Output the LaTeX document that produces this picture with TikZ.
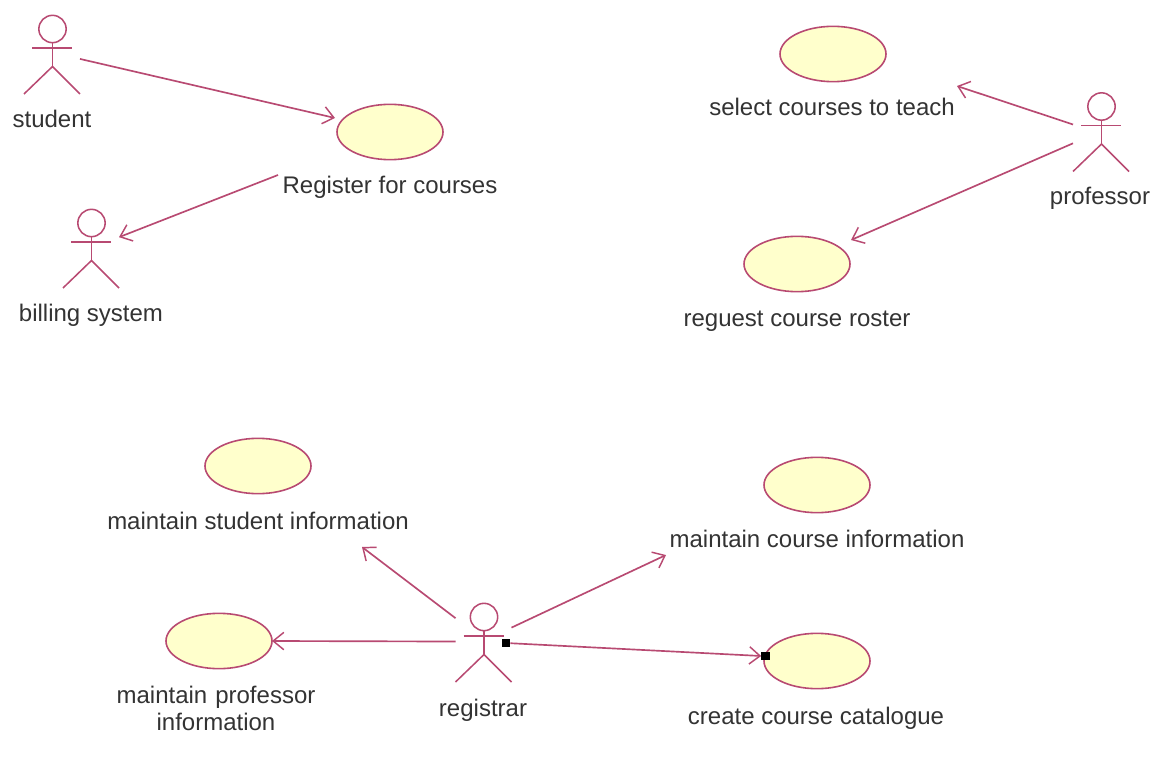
\documentclass[tikz,border=0pt]{standalone}
\usepackage{fontspec}
\setmainfont{Liberation Sans}
\usetikzlibrary{arrows.meta,shapes.geometric}
\definecolor{umlline}{HTML}{B84A72}
\definecolor{umlfill}{HTML}{FFFFCC}
\definecolor{umltext}{HTML}{333333}
\tikzset{
  usecase/.style={ellipse,draw=umlline,fill=umlfill,line width=1.2pt,minimum width=79.5pt,minimum height=41.5pt,inner sep=0pt,outer sep=0pt},
  actorbox/.style={rectangle,minimum width=42pt,minimum height=59pt,inner sep=0pt,outer sep=0pt},
  assoc/.style={draw=umlline,line width=1.25pt,-{Straight Barb[length=8pt,width=13pt,line width=1.1pt]}},
  stick/.style={draw=umlline,line width=1.15pt},
  lbl/.style={text=umltext,font=\fontsize{18pt}{20pt}\selectfont,inner sep=0pt,align=center},
  handle/.style={rectangle,fill=black,minimum size=6.5pt,inner sep=0pt,outer sep=0pt}
}
\newcommand{\stickfigure}[3]{%
  \node[actorbox] (#1) at (#2,#3) {};
  \node[circle,draw=umlline,fill=white,line width=1.15pt,minimum size=20.5pt,inner sep=0pt,outer sep=0pt] (#1-head) at (#2+0.5,#3-25.5) {};
  \coordinate (#1-neck) at (#1-head.south);
  \coordinate (#1-hip) at (#2+0.5,#3+12);
  \coordinate (#1-la) at (#2-20,#3-6.5);
  \coordinate (#1-ra) at (#2+20,#3-6.5);
  \coordinate (#1-ll) at (#2-28,#3+39.5);
  \coordinate (#1-rl) at (#2+28,#3+39.5);
  \draw[stick] (#1-neck) -- (#1-hip);
  \draw[stick] (#1-la) -- (#1-ra);
  \draw[stick] (#1-ll) -- (#1-hip) -- (#1-rl);
}
\begin{document}
\begin{tikzpicture}[x=0.75pt,y=-0.75pt]
\useasboundingbox (0,0) rectangle (1166,766);
% actors
\stickfigure{student}{52}{54.5}
\stickfigure{billing}{91}{248.5}
\stickfigure{professor}{1101}{132}
\stickfigure{registrar}{483.5}{642.5}
% use cases
\node[usecase] (register) at (390,132) {};
\node[usecase] (select) at (833,54) {};
\node[usecase] (request) at (797,264) {};
\node[usecase] (mstudent) at (258,466) {};
\node[usecase] (mcourse) at (817,485) {};
\node[usecase] (mprof) at (219,641) {};
\node[usecase] (catalogue) at (817,661) {};
% labels
\node[lbl] (t1) at (52,119) {student};
\node[lbl] (t2) at (91,315) {billing system};
\node[lbl] (t3) at (390,187) {Register for courses};
\node[lbl] (t4) at (1100,198) {professor};
\node[lbl] (t5) at (832,107) {select courses to teach};
\node[lbl] (t6) at (797,321) {reguest course roster};
\node[lbl] (t7) at (258,521) {maintain student information};
\node[lbl] (t8) at (817,539) {maintain course information};
\node[lbl,text width=220pt] (t9) at (216,708) {maintain professor\\[0.2pt]information};
\node[lbl] (t10) at (483,710) {registrar};
\node[lbl] (t11) at (816,718) {create course catalogue};
% free connector ends
\coordinate (register-in) at (335,118);
\coordinate (register-out) at (278,175);
\coordinate (select-in) at (957,86);
\coordinate (request-in) at (851,240);
\coordinate (mstudent-in) at (362,547);
\coordinate (mcourse-in) at (666,555);
% connectors
\draw[assoc] (student.-9) -- (register-in);
\draw[assoc] (register-out) -- (billing.22);
\draw[assoc] (professor.165) -- (select-in);
\draw[assoc] (professor.202) -- (request-in);
\draw[assoc] (registrar.139) -- (mstudent-in);
\draw[assoc] (registrar.28) -- (mcourse-in);
\draw[assoc] (registrar.178) -- (mprof.east);
\node[handle] (regsq) at (506,643) {};
\node[handle] (catsq) at (765.5,656) {};
\draw[assoc] (regsq) -- (catsq.west);
\end{tikzpicture}
\end{document}
